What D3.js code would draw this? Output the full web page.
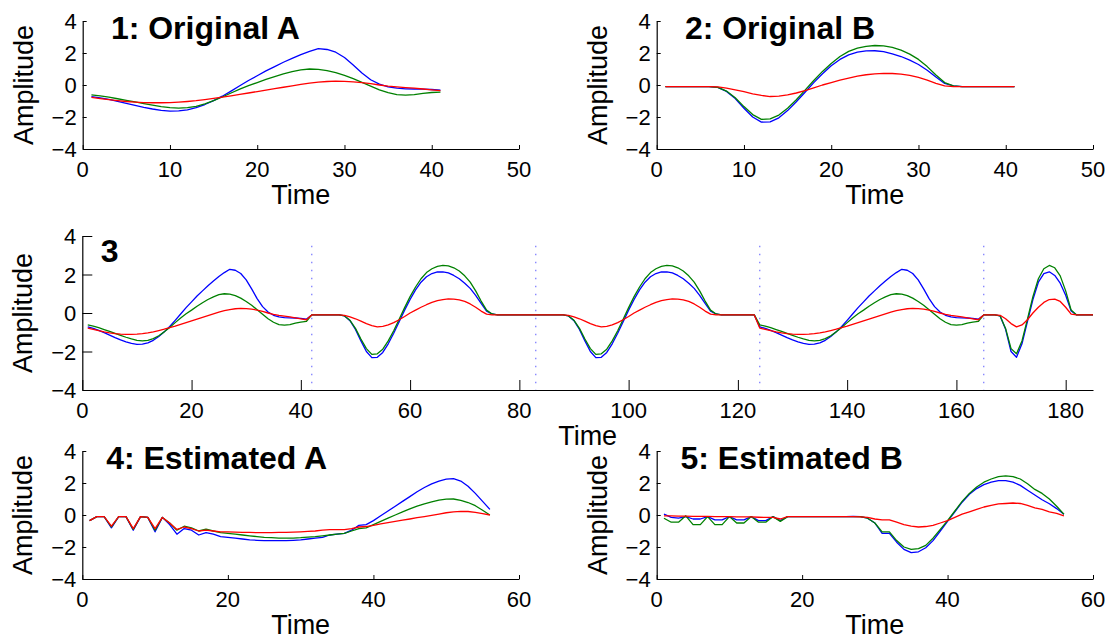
<!DOCTYPE html>
<html>
<head>
<meta charset="utf-8">
<script src="https://cdn.jsdelivr.net/npm/d3@7"></script>
<style>
  body { margin: 0; background: #fff; }
  svg { display: block; font-family: "Liberation Sans", Arial, Helvetica, sans-serif; }
</style>
</head>
<body>
<svg id="chart" width="1108" height="639"></svg>
<script>
// ---- data (sample k is at time k+1) ----
var orig_A_blue  = [-0.72,-0.8,-0.9,-1.02,-1.15,-1.28,-1.4,-1.5,-1.58,-1.63,-1.62,-1.55,-1.42,-1.22,-0.98,-0.7,-0.38,-0.05,0.28,0.58,0.88,1.15,1.42,1.66,1.9,2.1,2.27,2.22,2.05,1.72,1.25,0.75,0.33,0.05,-0.12,-0.2,-0.24,-0.25,-0.26,-0.28,-0.32];
var orig_A_green = [-0.62,-0.68,-0.76,-0.86,-0.96,-1.06,-1.16,-1.26,-1.35,-1.42,-1.45,-1.42,-1.33,-1.18,-0.98,-0.75,-0.5,-0.26,-0.04,0.15,0.35,0.53,0.7,0.84,0.95,1.0,0.98,0.9,0.77,0.6,0.4,0.17,-0.07,-0.3,-0.48,-0.6,-0.63,-0.6,-0.53,-0.47,-0.44];
var orig_A_red   = [-0.78,-0.85,-0.92,-0.98,-1.03,-1.07,-1.1,-1.11,-1.11,-1.1,-1.07,-1.03,-0.98,-0.91,-0.84,-0.76,-0.68,-0.59,-0.5,-0.41,-0.32,-0.23,-0.14,-0.05,0.04,0.12,0.18,0.22,0.24,0.23,0.2,0.15,0.08,0.0,-0.07,-0.12,-0.16,-0.2,-0.25,-0.3,-0.35];

var orig_B_blue  = [-0.1,-0.1,-0.1,-0.1,-0.1,-0.1,-0.15,-0.4,-0.85,-1.45,-2.0,-2.32,-2.3,-2.05,-1.6,-1.05,-0.45,0.15,0.7,1.2,1.6,1.88,2.05,2.13,2.14,2.08,1.95,1.78,1.55,1.28,0.92,0.5,0.1,-0.05,-0.1,-0.1,-0.1,-0.1,-0.1,-0.1,-0.1];
var orig_B_green = [-0.1,-0.1,-0.1,-0.1,-0.1,-0.1,-0.15,-0.38,-0.8,-1.35,-1.85,-2.15,-2.12,-1.88,-1.45,-0.92,-0.32,0.28,0.85,1.35,1.78,2.1,2.3,2.42,2.47,2.45,2.35,2.18,1.93,1.6,1.15,0.62,0.15,-0.05,-0.1,-0.1,-0.1,-0.1,-0.1,-0.1,-0.1];
var orig_B_red   = [-0.1,-0.1,-0.1,-0.1,-0.1,-0.1,-0.12,-0.2,-0.3,-0.42,-0.55,-0.65,-0.72,-0.7,-0.62,-0.5,-0.35,-0.18,0.0,0.15,0.3,0.43,0.55,0.64,0.7,0.73,0.72,0.68,0.6,0.47,0.3,0.1,-0.06,-0.1,-0.1,-0.1,-0.1,-0.1,-0.1,-0.1,-0.1];

var est_A_blue  = [-0.35,-0.1,-0.1,-0.8,-0.1,-0.1,-0.95,-0.1,-0.15,-1.05,-0.15,-0.6,-1.2,-0.85,-0.95,-1.25,-1.1,-1.2,-1.35,-1.4,-1.45,-1.5,-1.55,-1.58,-1.6,-1.6,-1.6,-1.6,-1.58,-1.55,-1.5,-1.45,-1.4,-1.25,-1.2,-1.15,-0.95,-0.65,-0.6,-0.35,-0.05,0.25,0.55,0.85,1.15,1.45,1.72,1.95,2.12,2.24,2.27,2.12,1.8,1.35,0.85,0.35];
var est_A_green = [-0.35,-0.1,-0.1,-0.75,-0.1,-0.1,-0.9,-0.1,-0.15,-0.95,-0.15,-0.5,-0.95,-0.7,-0.8,-1.0,-0.88,-1.0,-1.1,-1.15,-1.2,-1.25,-1.3,-1.35,-1.4,-1.42,-1.44,-1.45,-1.44,-1.42,-1.38,-1.35,-1.3,-1.25,-1.2,-1.15,-1.0,-0.85,-0.8,-0.6,-0.4,-0.2,0.0,0.2,0.38,0.55,0.7,0.82,0.93,0.99,1.0,0.92,0.78,0.58,0.3,0.0];
var est_A_red   = [-0.35,-0.1,-0.1,-0.7,-0.1,-0.1,-0.85,-0.1,-0.15,-0.85,-0.15,-0.5,-0.9,-0.75,-0.85,-1.0,-0.95,-1.0,-1.05,-1.05,-1.07,-1.08,-1.09,-1.1,-1.1,-1.1,-1.09,-1.08,-1.07,-1.05,-1.02,-1.0,-0.95,-0.92,-0.92,-0.92,-0.85,-0.75,-0.72,-0.65,-0.55,-0.47,-0.4,-0.32,-0.25,-0.17,-0.1,-0.02,0.06,0.14,0.2,0.23,0.22,0.17,0.09,0.0];

var est_B_blue  = [0.05,-0.15,-0.2,-0.1,-0.25,-0.25,-0.1,-0.3,-0.3,-0.1,-0.3,-0.3,-0.1,-0.35,-0.35,-0.1,-0.35,-0.1,-0.1,-0.1,-0.1,-0.1,-0.1,-0.1,-0.1,-0.1,-0.08,-0.1,-0.2,-0.5,-1.15,-1.15,-1.7,-2.15,-2.35,-2.3,-2.05,-1.6,-1.0,-0.4,0.2,0.8,1.3,1.65,1.9,2.05,2.15,2.15,2.05,1.85,1.55,1.25,0.95,0.7,0.4,0.05];
var est_B_green = [-0.2,-0.45,-0.45,-0.05,-0.6,-0.6,-0.1,-0.6,-0.6,-0.1,-0.5,-0.5,-0.1,-0.45,-0.45,-0.1,-0.4,-0.1,-0.1,-0.1,-0.1,-0.1,-0.1,-0.1,-0.1,-0.1,-0.1,-0.1,-0.2,-0.5,-1.05,-1.05,-1.6,-2.0,-2.15,-2.1,-1.9,-1.45,-0.9,-0.35,0.25,0.85,1.35,1.75,2.05,2.25,2.4,2.45,2.4,2.25,1.95,1.6,1.35,1.0,0.55,0.05];
var est_B_red   = [-0.05,-0.06,-0.07,-0.07,-0.08,-0.08,-0.08,-0.1,-0.1,-0.1,-0.12,-0.12,-0.12,-0.14,-0.15,-0.15,-0.25,-0.1,-0.1,-0.1,-0.1,-0.1,-0.1,-0.1,-0.1,-0.1,-0.1,-0.12,-0.15,-0.25,-0.3,-0.3,-0.45,-0.6,-0.7,-0.75,-0.72,-0.65,-0.5,-0.35,-0.15,0.05,0.2,0.35,0.5,0.6,0.7,0.72,0.75,0.72,0.6,0.45,0.35,0.2,0.1,-0.05];

// panel 3 is the pieces put one after the other; "B2" = B taking every 2nd sample
var mix_order = ["A", "B", "B", "A", "B2"];

var amp_ticks = [-4, -2, 0, 2, 4];
var time_ticks_50  = [0, 10, 20, 30, 40, 50];
var time_ticks_60  = [0, 20, 40, 60];
var time_ticks_185 = [0, 20, 40, 60, 80, 100, 120, 140, 160, 180];

var line_colors = ["#0000ff", "#008000", "#ff0000"];
var divider_color = "#7f7fff";

// ---- build panel 3 ----
var pieces = {
    A:  [orig_A_blue, orig_A_green, orig_A_red],
    B:  [orig_B_blue, orig_B_green, orig_B_red],
    B2: [orig_B_blue, orig_B_green, orig_B_red].map(function (s) { return s.filter(function (v, i) { return i % 2 === 0; }); })
};
var mix_series = [[], [], []];
var mix_dividers = [];
mix_order.forEach(function (key, k) {
    if (k > 0) mix_dividers.push(mix_series[0].length + 1);
    pieces[key].forEach(function (s, c) { mix_series[c] = mix_series[c].concat(s); });
});

var panels = [
    { title: "1: Original A",  xr: [82.7, 519],  yr: [21, 149],  xdom: [0, 50],  xt: time_ticks_50,  series: pieces.A,  title_dy: 18 },
    { title: "2: Original B",  xr: [656.7, 1093], yr: [21, 149], xdom: [0, 50],  xt: time_ticks_50,  series: pieces.B,  title_dy: 18 },
    { title: "3",              xr: [82.3, 1093], yr: [236, 390], xdom: [0, 185], xt: time_ticks_185, series: mix_series, title_dy: 26, dividers: mix_dividers },
    { title: "4: Estimated A", xr: [82.3, 519],  yr: [451, 579], xdom: [0, 60],  xt: time_ticks_60,  series: [est_A_blue, est_A_green, est_A_red], title_dy: 18 },
    { title: "5: Estimated B", xr: [656.7, 1093], yr: [451, 579], xdom: [0, 60], xt: time_ticks_60,  series: [est_B_blue, est_B_green, est_B_red], title_dy: 18 }
];

var svg = d3.select("#chart");
svg.append("rect").attr("width", 1108).attr("height", 639).attr("fill", "#fff");

function minus_fmt(v) { return v < 0 ? "\u2212" + Math.abs(v) : String(v); }

panels.forEach(function (p) {
    var x = d3.scaleLinear().domain(p.xdom).range(p.xr);
    var y = d3.scaleLinear().domain([-4, 4]).range([p.yr[1], p.yr[0]]);
    var tick_len = Math.round(0.01 * (p.xr[1] - p.xr[0]));
    var g = svg.append("g");

    // dotted dividers (panel 3)
    (p.dividers || []).forEach(function (t) {
        g.append("line")
            .attr("x1", x(t)).attr("x2", x(t))
            .attr("y1", y(3.5)).attr("y2", y(-4))
            .attr("stroke", divider_color).attr("stroke-width", 1.3)
            .attr("stroke-dasharray", "1.5,6.5");
    });

    // signals
    var line_gen = d3.line()
        .x(function (v, i) { return x(i + 1); })
        .y(function (v) { return y(v); });
    p.series.forEach(function (s, c) {
        g.append("path")
            .attr("d", line_gen(s))
            .attr("fill", "none")
            .attr("stroke", line_colors[c])
            .attr("stroke-width", 1.3)
            .attr("stroke-linejoin", "round");
    });

    // axes, MATLAB style: ticks inside, no box
    var x_axis = g.append("g")
        .attr("transform", "translate(0," + p.yr[1] + ")")
        .call(d3.axisBottom(x).tickValues(p.xt).tickSize(-tick_len).tickPadding(0).tickSizeOuter(0).tickFormat(minus_fmt));
    x_axis.selectAll("text").remove();
    var y_axis = g.append("g")
        .attr("transform", "translate(" + p.xr[0] + ",0)")
        .call(d3.axisLeft(y).tickValues(amp_ticks).tickSize(-tick_len).tickSizeOuter(0).tickFormat(minus_fmt));
    y_axis.selectAll("text").remove();
    g.selectAll(".domain").attr("stroke", "#000").attr("stroke-width", 1.2);
    g.selectAll(".tick line").attr("stroke", "#000").attr("stroke-width", 1);

    // tick labels
    g.selectAll(".xlab").data(p.xt).enter().append("text")
        .attr("x", function (d) { return x(d); })
        .attr("y", p.yr[1] + 28)
        .attr("text-anchor", "middle")
        .style("font-size", "22px")
        .text(minus_fmt);
    g.selectAll(".ylab").data(amp_ticks).enter().append("text")
        .attr("x", p.xr[0] - 6)
        .attr("y", function (d) { return y(d) + 8; })
        .attr("text-anchor", "end")
        .style("font-size", "22px")
        .text(minus_fmt);

    // axis titles
    g.append("text")
        .attr("x", (p.xr[0] + p.xr[1]) / 2)
        .attr("y", p.yr[1] + 55)
        .attr("text-anchor", "middle")
        .style("font-size", "27px")
        .text("Time");
    g.append("text")
        .attr("transform", "translate(" + (p.xr[0] - 50) + "," + ((p.yr[0] + p.yr[1]) / 2) + ") rotate(-90)")
        .attr("text-anchor", "middle")
        .style("font-size", "27px")
        .text("Amplitude");

    // panel title
    g.append("text")
        .attr("x", x(3) + 2)
        .attr("y", p.yr[0] + p.title_dy)
        .style("font-size", "32px")
        .style("font-weight", "bold")
        .text(p.title);
});
</script>
</body>
</html>
